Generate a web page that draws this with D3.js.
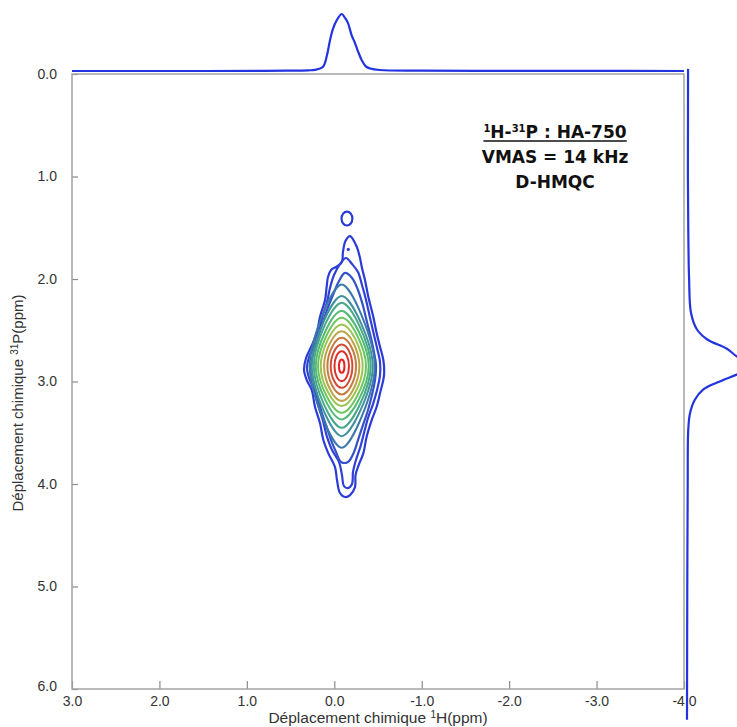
<!DOCTYPE html>
<html>
<head>
<meta charset="utf-8">
<script src="https://cdn.jsdelivr.net/npm/d3@7"></script>
<style>
  html, body { margin: 0; padding: 0; background: #fff; }
  svg { display: block; }
</style>
</head>
<body>
<div id="chart"></div>
<script>
// ---------------- DATA ----------------
const xTicks = [3, 2, 1, 0, -1, -2, -3, -4];          // 1H ppm
const yTicks = [0, 1, 2, 3, 4, 5, 6];                 // 31P ppm

// 1H projection (top): ppm and relative intensity
const projHppm = [3.0, 1.5, 0.8, 0.507, 0.30, 0.221, 0.129, 0.083, 0.049, 0.015, -0.028, -0.085, -0.123, -0.157, -0.20, -0.237, -0.27, -0.314, -0.36, -0.41, -0.52, -0.98, -2.0, -3.0, -4.0];
const projHint = [0.0, 0.0, 0.003, 0.006, 0.012, 0.02, 0.075, 0.28, 0.54, 0.74, 0.89, 1.0, 0.93, 0.84, 0.62, 0.49, 0.35, 0.19, 0.08, 0.045, 0.018, 0.006, 0.003, 0.002, 0.0];

// 31P projection (right): ppm and relative intensity
const projPppm = [-0.05, 0.5, 1.0, 1.5, 2.0, 2.33, 2.49, 2.59, 2.68, 2.76, 2.85, 2.93, 3.01, 3.08, 3.18, 3.31, 3.47, 4.0, 5.0, 6.3];
const projPint = [0.015, 0.014, 0.013, 0.018, 0.03, 0.057, 0.14, 0.29, 0.57, 0.72, 1.0, 0.72, 0.43, 0.23, 0.11, 0.043, 0.018, 0.01, 0.004, 0.0];

// Outer irregular contours (1H ppm, 31P ppm), outermost first
const contour1H = [-0.180,-0.257,-0.294,-0.317,-0.351,-0.389,-0.446,-0.485,-0.523,-0.561,-0.569,-0.523,-0.485,-0.428,-0.370,-0.332,-0.283,-0.243,-0.237,-0.180,-0.123,-0.065,-0.031,-0.008,0.068,0.125,0.163,0.221,0.258,0.315,0.346,0.323,0.266,0.201,0.163,0.106,0.087,0.072,0.037,-0.031,-0.088,-0.099,-0.128];
const contour1P = [1.581,1.685,1.795,1.893,2.010,2.173,2.368,2.530,2.661,2.790,2.937,3.115,3.246,3.376,3.539,3.701,3.806,3.913,4.030,4.108,4.127,4.088,3.961,3.834,3.701,3.571,3.408,3.246,3.083,2.986,2.888,2.771,2.663,2.530,2.368,2.205,2.075,1.980,1.912,1.878,1.834,1.737,1.629];

const contour2H = [-0.134,-0.203,-0.271,-0.317,-0.363,-0.409,-0.454,-0.489,-0.523,-0.523,-0.489,-0.443,-0.386,-0.340,-0.294,-0.248,-0.214,-0.203,-0.157,-0.111,-0.088,-0.054,0.026,0.083,0.129,0.186,0.232,0.289,0.312,0.289,0.232,0.175,0.140,0.083,0.049,0.003,-0.065];
const contour2P = [1.795,1.854,1.932,2.059,2.205,2.380,2.546,2.673,2.810,2.937,3.083,3.220,3.356,3.502,3.649,3.766,3.883,4.000,4.039,4.020,3.912,3.785,3.668,3.541,3.385,3.229,3.083,2.966,2.868,2.761,2.654,2.527,2.380,2.224,2.088,1.961,1.854];

const contour3H = [-0.123,-0.203,-0.271,-0.329,-0.374,-0.420,-0.454,-0.477,-0.466,-0.431,-0.386,-0.329,-0.271,-0.226,-0.157,-0.077,-0.020,0.037,0.095,0.152,0.198,0.243,0.266,0.243,0.198,0.140,0.083,0.015,-0.054];
const contour3P = [1.941,1.990,2.107,2.263,2.420,2.576,2.712,2.839,2.985,3.132,3.278,3.424,3.571,3.688,3.785,3.785,3.688,3.571,3.424,3.278,3.132,2.985,2.859,2.732,2.595,2.449,2.302,2.156,2.020];

// Inner smooth contours (outer -> inner): extents in ppm
const ringLeft   = [0.281, 0.258, 0.235, 0.212, 0.186, 0.155, 0.117, 0.079, 0.041, -0.002, -0.054];
const ringRight  = [-0.463, -0.440, -0.417, -0.394, -0.363, -0.325, -0.287, -0.249, -0.207, -0.168, -0.116];
const ringTop    = [2.053, 2.167, 2.232, 2.313, 2.379, 2.443, 2.509, 2.574, 2.638, 2.704, 2.785];
const ringBottom = [3.647, 3.533, 3.452, 3.370, 3.306, 3.240, 3.191, 3.126, 3.062, 2.996, 2.915];
const ringCenterH = -0.085;
const ringCenterP = 2.85;

// isolated small peak and dot above main correlation
const blobH = -0.145, blobP = 1.41, blobRH = 0.062, blobRP = 0.068;
const dotH = -0.160, dotP = 1.711;

// ---------------- STYLE ----------------
const W = 737, H = 727;
const outerColors = ["#2b3bd8", "#3041d4", "#3552c8"];
const ringColors = ["#3c78ac", "#41929c", "#47a98a", "#52ba72", "#6cc660", "#9cc452", "#bca446", "#c67a3e", "#d24c34", "#dc302c", "#e42222"];
const ringTension = [0.1, 0.05, 0.0, -0.05, -0.1, -0.2, -0.3, -0.4, -0.5, -0.6, -0.65];
const projColor = "#2233e0";

const svg = d3.select("#chart").append("svg").attr("width", W).attr("height", H);

const x = d3.scaleLinear().domain([3, -4]).range([72, 684]);
const y = d3.scaleLinear().domain([0, 6]).range([74, 689]);

// ---------------- FRAME / AXES ----------------
const fmt = d => d.toFixed(1);

const xAxis = svg.append("g").attr("transform", `translate(0,${y(6)})`)
  .call(d3.axisBottom(x).tickValues(xTicks).tickSizeInner(-8).tickSizeOuter(0).tickPadding(7).tickFormat(fmt));
const yAxis = svg.append("g").attr("transform", `translate(${x(3)},0)`)
  .call(d3.axisLeft(y).tickValues(yTicks).tickSizeInner(-6).tickSizeOuter(0).tickPadding(15).tickFormat(fmt));
[xAxis, yAxis].forEach(g => {
  g.select(".domain").remove();
  g.selectAll(".tick line").attr("stroke", "#8a8a8a").attr("stroke-width", 1.2);
  g.selectAll(".tick text").attr("fill", "#333").style("font-family", "'Liberation Sans', Arial, sans-serif").style("font-size", "14px");
});
// last y label sits slightly above the corner
yAxis.selectAll(".tick").filter(d => d === 6).select("text").attr("dy", "0.1em");

svg.append("rect")
  .attr("x", x(3)).attr("y", y(0))
  .attr("width", x(-4) - x(3)).attr("height", y(6) - y(0))
  .attr("fill", "none").attr("stroke", "#a3a3a3").attr("stroke-width", 1.5);

// axis titles
const titleFont = "'Liberation Sans', Arial, sans-serif";
const xt = svg.append("text").attr("x", 378).attr("y", 723).attr("text-anchor", "middle")
  .style("font-family", titleFont).style("font-size", "15.5px").attr("fill", "#333");
xt.append("tspan").text("Déplacement chimique ");
xt.append("tspan").text("1").attr("dy", -5).style("font-size", "10px");
xt.append("tspan").text("H(ppm)").attr("dy", 5);

const yt = svg.append("text").attr("transform", "translate(23,403) rotate(-90)").attr("text-anchor", "middle")
  .style("font-family", titleFont).style("font-size", "15px").attr("fill", "#333");
yt.append("tspan").text("Déplacement chimique ");
yt.append("tspan").text("31").attr("dy", -5).style("font-size", "10px");
yt.append("tspan").text("P(ppm)").attr("dy", 5);

// ---------------- PROJECTIONS ----------------
const topI = d3.scaleLinear().domain([0, 1]).range([71, 14]);
const rightI = d3.scaleLinear().domain([0, 1]).range([687, 757]);

svg.append("path")
  .datum(projHppm.map((p, i) => [p, projHint[i]]))
  .attr("d", d3.line().x(d => x(d[0])).y(d => topI(d[1])).curve(d3.curveCatmullRom.alpha(0.5)))
  .attr("fill", "none").attr("stroke", projColor).attr("stroke-width", 2.2);

svg.append("path")
  .datum(projPppm.map((p, i) => [p, projPint[i]]))
  .attr("d", d3.line().x(d => rightI(d[1])).y(d => y(d[0])).curve(d3.curveCatmullRom.alpha(0.5)))
  .attr("fill", "none").attr("stroke", projColor).attr("stroke-width", 2.2);

// ---------------- CONTOURS ----------------
const g = svg.append("g");
const polyLine = d3.line().x(d => x(d[0])).y(d => y(d[1])).curve(d3.curveCatmullRomClosed.alpha(0.5));

[[contour1H, contour1P], [contour2H, contour2P], [contour3H, contour3P]].forEach((c, i) => {
  g.append("path")
    .datum(c[0].map((h, j) => [h, c[1][j]]))
    .attr("d", polyLine)
    .attr("fill", "none").attr("stroke", outerColors[i]).attr("stroke-width", 2.2);
});

ringLeft.forEach((l, i) => {
  const pts = [[ringCenterH, ringTop[i]], [ringRight[i], ringCenterP], [ringCenterH, ringBottom[i]], [l, ringCenterP]];
  g.append("path")
    .datum(pts)
    .attr("d", d3.line().x(d => x(d[0])).y(d => y(d[1])).curve(d3.curveCardinalClosed.tension(ringTension[i])))
    .attr("fill", "none").attr("stroke", ringColors[i]).attr("stroke-width", 2);
});

g.append("ellipse")
  .attr("cx", x(blobH)).attr("cy", y(blobP))
  .attr("rx", Math.abs(x(blobH + blobRH / 2) - x(blobH - blobRH / 2)))
  .attr("ry", Math.abs(y(blobP + blobRP) - y(blobP)))
  .attr("fill", "none").attr("stroke", outerColors[0]).attr("stroke-width", 2.2);

g.append("circle").attr("cx", x(dotH)).attr("cy", y(dotP)).attr("r", 1.6).attr("fill", outerColors[1]);

// ---------------- ANNOTATION ----------------
const annFont = "'DejaVu Sans', Verdana, sans-serif";
const ann = svg.append("g");
const a1 = ann.append("text").attr("x", 555).attr("y", 138).attr("text-anchor", "middle")
  .style("font-family", annFont).style("font-weight", "bold").style("font-size", "17px").attr("fill", "#111");
a1.append("tspan").text("1").attr("dy", -6).style("font-size", "10px");
a1.append("tspan").text("H-").attr("dy", 6);
a1.append("tspan").text("31").attr("dy", -6).style("font-size", "10px");
a1.append("tspan").text("P : HA-750").attr("dy", 6);
const bb = a1.node().getBBox();
ann.append("line")
  .attr("x1", bb.x).attr("x2", bb.x + bb.width)
  .attr("y1", 141).attr("y2", 141)
  .attr("stroke", "#111").attr("stroke-width", 1.6);

ann.append("text").attr("x", 555).attr("y", 163).attr("text-anchor", "middle")
  .style("font-family", annFont).style("font-weight", "bold").style("font-size", "17px").attr("fill", "#111")
  .text("VMAS = 14 kHz");
ann.append("text").attr("x", 555).attr("y", 188).attr("text-anchor", "middle")
  .style("font-family", annFont).style("font-weight", "bold").style("font-size", "17px").attr("fill", "#111")
  .text("D-HMQC");
</script>
</body>
</html>
